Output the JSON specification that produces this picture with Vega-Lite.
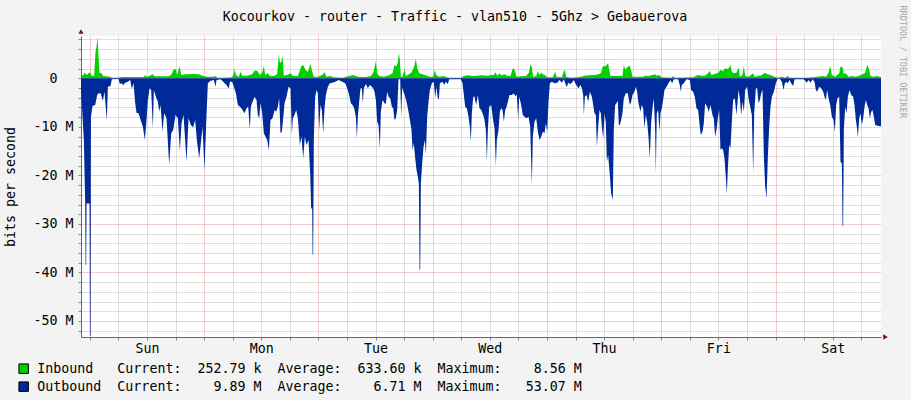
{
  "$schema": "https://vega.github.io/schema/vega-lite/v6.json",
  "width": 800,
  "height": 301,
  "autosize": {"type": "none"},
  "padding": {"left": 81, "top": 36, "right": 30, "bottom": 63},
  "background": "#F3F3F3",
  "datasets": {
    "traffic": [
      {"t": -1.85, "dir": "Inbound", "v": 0.48}, {"t": -1.39, "dir": "Inbound", "v": 0.69}, {"t": -1.04, "dir": "Inbound", "v": 1.17}, {"t": -0.69, "dir": "Inbound", "v": 0.69},
      {"t": -0.27, "dir": "Inbound", "v": 1.03}, {"t": 0.01, "dir": "Inbound", "v": 1.24}, {"t": 0.43, "dir": "Inbound", "v": 0.48}, {"t": 0.92, "dir": "Inbound", "v": 0.48},
      {"t": 1.2, "dir": "Inbound", "v": 5.5}, {"t": 1.41, "dir": "Inbound", "v": 6.53}, {"t": 1.62, "dir": "Inbound", "v": 8.56}, {"t": 1.83, "dir": "Inbound", "v": 4.47},
      {"t": 2.04, "dir": "Inbound", "v": 1.03}, {"t": 2.39, "dir": "Inbound", "v": 1.17}, {"t": 2.81, "dir": "Inbound", "v": 0.48}, {"t": 4.28, "dir": "Inbound", "v": 0.34},
      {"t": 4.63, "dir": "Inbound", "v": 0.14}, {"t": 6.03, "dir": "Inbound", "v": 0.14}, {"t": 6.73, "dir": "Inbound", "v": 0.27}, {"t": 11.28, "dir": "Inbound", "v": 0.27},
      {"t": 11.63, "dir": "Inbound", "v": 0.62}, {"t": 11.98, "dir": "Inbound", "v": 0.34}, {"t": 12.47, "dir": "Inbound", "v": 0.48}, {"t": 13.17, "dir": "Inbound", "v": 0.82},
      {"t": 13.59, "dir": "Inbound", "v": 0.41}, {"t": 16.53, "dir": "Inbound", "v": 0.41}, {"t": 17.09, "dir": "Inbound", "v": 0.76}, {"t": 17.65, "dir": "Inbound", "v": 1.86},
      {"t": 18.07, "dir": "Inbound", "v": 1.86}, {"t": 18.35, "dir": "Inbound", "v": 0.69}, {"t": 18.84, "dir": "Inbound", "v": 2.54}, {"t": 19.19, "dir": "Inbound", "v": 0.69},
      {"t": 20.03, "dir": "Inbound", "v": 0.82}, {"t": 21.78, "dir": "Inbound", "v": 0.89}, {"t": 22.83, "dir": "Inbound", "v": 0.82}, {"t": 23.67, "dir": "Inbound", "v": 0.55},
      {"t": 24.58, "dir": "Inbound", "v": 0.34}, {"t": 26.05, "dir": "Inbound", "v": 0.34}, {"t": 26.4, "dir": "Inbound", "v": 0.48}, {"t": 26.75, "dir": "Inbound", "v": 0.14},
      {"t": 28.15, "dir": "Inbound", "v": 0.14}, {"t": 29.9, "dir": "Inbound", "v": 0.21}, {"t": 30.25, "dir": "Inbound", "v": 1.03}, {"t": 30.46, "dir": "Inbound", "v": 1.92},
      {"t": 30.67, "dir": "Inbound", "v": 0.69}, {"t": 31.3, "dir": "Inbound", "v": 0.34}, {"t": 31.65, "dir": "Inbound", "v": 1.37}, {"t": 32.0, "dir": "Inbound", "v": 0.55},
      {"t": 33.05, "dir": "Inbound", "v": 0.55}, {"t": 34.1, "dir": "Inbound", "v": 0.82}, {"t": 34.59, "dir": "Inbound", "v": 1.58}, {"t": 35.15, "dir": "Inbound", "v": 1.58},
      {"t": 35.71, "dir": "Inbound", "v": 0.69}, {"t": 36.2, "dir": "Inbound", "v": 1.17}, {"t": 36.55, "dir": "Inbound", "v": 2.54}, {"t": 36.83, "dir": "Inbound", "v": 0.69},
      {"t": 37.39, "dir": "Inbound", "v": 1.03}, {"t": 37.81, "dir": "Inbound", "v": 0.48}, {"t": 38.65, "dir": "Inbound", "v": 0.48}, {"t": 39.35, "dir": "Inbound", "v": 0.82},
      {"t": 39.7, "dir": "Inbound", "v": 5.02}, {"t": 39.91, "dir": "Inbound", "v": 3.23}, {"t": 40.19, "dir": "Inbound", "v": 3.3}, {"t": 40.47, "dir": "Inbound", "v": 4.6},
      {"t": 40.75, "dir": "Inbound", "v": 0.55}, {"t": 41.59, "dir": "Inbound", "v": 0.76}, {"t": 42.15, "dir": "Inbound", "v": 1.03}, {"t": 42.71, "dir": "Inbound", "v": 0.48},
      {"t": 43.69, "dir": "Inbound", "v": 0.48}, {"t": 44.39, "dir": "Inbound", "v": 2.41}, {"t": 44.81, "dir": "Inbound", "v": 2.75}, {"t": 45.3, "dir": "Inbound", "v": 1.72},
      {"t": 45.79, "dir": "Inbound", "v": 1.37}, {"t": 46.35, "dir": "Inbound", "v": 2.96}, {"t": 46.7, "dir": "Inbound", "v": 1.37}, {"t": 47.05, "dir": "Inbound", "v": 0.34},
      {"t": 47.75, "dir": "Inbound", "v": 0.27}, {"t": 48.8, "dir": "Inbound", "v": 0.69}, {"t": 49.29, "dir": "Inbound", "v": 1.24}, {"t": 49.71, "dir": "Inbound", "v": 0.34},
      {"t": 50.41, "dir": "Inbound", "v": 0.48}, {"t": 51.25, "dir": "Inbound", "v": 0.21}, {"t": 53.07, "dir": "Inbound", "v": 0.14}, {"t": 53.77, "dir": "Inbound", "v": 0.34},
      {"t": 54.47, "dir": "Inbound", "v": 0.48}, {"t": 55.17, "dir": "Inbound", "v": 0.69}, {"t": 55.87, "dir": "Inbound", "v": 0.48}, {"t": 56.57, "dir": "Inbound", "v": 0.27},
      {"t": 57.97, "dir": "Inbound", "v": 0.27}, {"t": 59.02, "dir": "Inbound", "v": 0.48}, {"t": 59.51, "dir": "Inbound", "v": 1.17}, {"t": 59.86, "dir": "Inbound", "v": 2.41},
      {"t": 60.07, "dir": "Inbound", "v": 3.57}, {"t": 60.35, "dir": "Inbound", "v": 1.03}, {"t": 60.77, "dir": "Inbound", "v": 0.48}, {"t": 61.82, "dir": "Inbound", "v": 0.34},
      {"t": 62.87, "dir": "Inbound", "v": 0.62}, {"t": 63.57, "dir": "Inbound", "v": 1.03}, {"t": 63.99, "dir": "Inbound", "v": 2.75}, {"t": 64.41, "dir": "Inbound", "v": 2.41},
      {"t": 64.69, "dir": "Inbound", "v": 3.3}, {"t": 64.9, "dir": "Inbound", "v": 5.15}, {"t": 65.11, "dir": "Inbound", "v": 3.78}, {"t": 65.32, "dir": "Inbound", "v": 0.34},
      {"t": 65.67, "dir": "Inbound", "v": 0.34}, {"t": 66.09, "dir": "Inbound", "v": 1.86}, {"t": 66.37, "dir": "Inbound", "v": 0.48}, {"t": 67.07, "dir": "Inbound", "v": 0.82},
      {"t": 67.63, "dir": "Inbound", "v": 1.31}, {"t": 68.12, "dir": "Inbound", "v": 2.41}, {"t": 68.47, "dir": "Inbound", "v": 3.99}, {"t": 68.75, "dir": "Inbound", "v": 2.06},
      {"t": 69.17, "dir": "Inbound", "v": 1.03}, {"t": 69.87, "dir": "Inbound", "v": 0.82}, {"t": 70.92, "dir": "Inbound", "v": 0.48}, {"t": 71.62, "dir": "Inbound", "v": 0.27},
      {"t": 72.11, "dir": "Inbound", "v": 0.34}, {"t": 72.46, "dir": "Inbound", "v": 1.72}, {"t": 72.74, "dir": "Inbound", "v": 0.69}, {"t": 73.37, "dir": "Inbound", "v": 0.34},
      {"t": 74.42, "dir": "Inbound", "v": 0.48}, {"t": 74.77, "dir": "Inbound", "v": 0.27}, {"t": 75.47, "dir": "Inbound", "v": 0.14}, {"t": 77.92, "dir": "Inbound", "v": 0.14},
      {"t": 78.62, "dir": "Inbound", "v": 0.48}, {"t": 79.32, "dir": "Inbound", "v": 0.62}, {"t": 80.37, "dir": "Inbound", "v": 0.48}, {"t": 80.79, "dir": "Inbound", "v": 0.48},
      {"t": 82.19, "dir": "Inbound", "v": 0.62}, {"t": 83.59, "dir": "Inbound", "v": 0.55}, {"t": 84.29, "dir": "Inbound", "v": 0.69}, {"t": 84.85, "dir": "Inbound", "v": 0.69},
      {"t": 85.2, "dir": "Inbound", "v": 1.24}, {"t": 85.55, "dir": "Inbound", "v": 0.55}, {"t": 86.04, "dir": "Inbound", "v": 1.03}, {"t": 86.39, "dir": "Inbound", "v": 0.62},
      {"t": 87.09, "dir": "Inbound", "v": 0.82}, {"t": 87.79, "dir": "Inbound", "v": 0.48}, {"t": 88.35, "dir": "Inbound", "v": 0.48}, {"t": 88.77, "dir": "Inbound", "v": 1.86},
      {"t": 89.05, "dir": "Inbound", "v": 2.06}, {"t": 89.33, "dir": "Inbound", "v": 1.37}, {"t": 89.61, "dir": "Inbound", "v": 0.34}, {"t": 90.59, "dir": "Inbound", "v": 0.41},
      {"t": 91.64, "dir": "Inbound", "v": 0.48}, {"t": 92.2, "dir": "Inbound", "v": 1.17}, {"t": 92.55, "dir": "Inbound", "v": 2.89}, {"t": 92.83, "dir": "Inbound", "v": 2.27},
      {"t": 93.11, "dir": "Inbound", "v": 0.34}, {"t": 93.74, "dir": "Inbound", "v": 0.48}, {"t": 94.09, "dir": "Inbound", "v": 1.58}, {"t": 94.37, "dir": "Inbound", "v": 0.69},
      {"t": 94.79, "dir": "Inbound", "v": 1.17}, {"t": 95.14, "dir": "Inbound", "v": 0.82}, {"t": 95.63, "dir": "Inbound", "v": 0.62}, {"t": 96.05, "dir": "Inbound", "v": 0.21},
      {"t": 97.24, "dir": "Inbound", "v": 0.21}, {"t": 97.73, "dir": "Inbound", "v": 1.37}, {"t": 98.01, "dir": "Inbound", "v": 0.34}, {"t": 99.13, "dir": "Inbound", "v": 0.21},
      {"t": 99.55, "dir": "Inbound", "v": 1.51}, {"t": 99.76, "dir": "Inbound", "v": 1.72}, {"t": 100.04, "dir": "Inbound", "v": 0.34}, {"t": 101.09, "dir": "Inbound", "v": 0.14},
      {"t": 102.49, "dir": "Inbound", "v": 0.21}, {"t": 103.19, "dir": "Inbound", "v": 0.34}, {"t": 103.89, "dir": "Inbound", "v": 0.55}, {"t": 104.94, "dir": "Inbound", "v": 0.62},
      {"t": 105.99, "dir": "Inbound", "v": 0.69}, {"t": 106.83, "dir": "Inbound", "v": 0.82}, {"t": 107.39, "dir": "Inbound", "v": 1.17}, {"t": 107.74, "dir": "Inbound", "v": 2.54},
      {"t": 108.23, "dir": "Inbound", "v": 2.41}, {"t": 108.5, "dir": "Inbound", "v": 2.75}, {"t": 108.85, "dir": "Inbound", "v": 3.09}, {"t": 109.06, "dir": "Inbound", "v": 1.72},
      {"t": 109.34, "dir": "Inbound", "v": 0.48}, {"t": 111.86, "dir": "Inbound", "v": 0.48}, {"t": 112.14, "dir": "Inbound", "v": 2.75}, {"t": 112.42, "dir": "Inbound", "v": 1.86},
      {"t": 112.7, "dir": "Inbound", "v": 2.06}, {"t": 113.05, "dir": "Inbound", "v": 2.41}, {"t": 113.4, "dir": "Inbound", "v": 2.61}, {"t": 113.75, "dir": "Inbound", "v": 1.37},
      {"t": 113.96, "dir": "Inbound", "v": 0.34}, {"t": 116.2, "dir": "Inbound", "v": 0.34}, {"t": 116.55, "dir": "Inbound", "v": 0.55}, {"t": 117.25, "dir": "Inbound", "v": 0.48},
      {"t": 117.95, "dir": "Inbound", "v": 0.62}, {"t": 118.65, "dir": "Inbound", "v": 0.82}, {"t": 119.0, "dir": "Inbound", "v": 0.55}, {"t": 119.56, "dir": "Inbound", "v": 0.69},
      {"t": 120.05, "dir": "Inbound", "v": 0.21}, {"t": 122.15, "dir": "Inbound", "v": 0.14}, {"t": 122.5, "dir": "Inbound", "v": 0.48}, {"t": 122.85, "dir": "Inbound", "v": 0.14},
      {"t": 126.7, "dir": "Inbound", "v": 0.21}, {"t": 127.75, "dir": "Inbound", "v": 0.69}, {"t": 128.45, "dir": "Inbound", "v": 0.55}, {"t": 129.15, "dir": "Inbound", "v": 0.55},
      {"t": 129.85, "dir": "Inbound", "v": 1.03}, {"t": 130.2, "dir": "Inbound", "v": 1.51}, {"t": 130.55, "dir": "Inbound", "v": 0.69}, {"t": 131.25, "dir": "Inbound", "v": 0.89},
      {"t": 131.95, "dir": "Inbound", "v": 1.17}, {"t": 132.44, "dir": "Inbound", "v": 1.72}, {"t": 133.0, "dir": "Inbound", "v": 1.51}, {"t": 133.42, "dir": "Inbound", "v": 2.06},
      {"t": 133.84, "dir": "Inbound", "v": 1.86}, {"t": 134.26, "dir": "Inbound", "v": 2.2}, {"t": 134.54, "dir": "Inbound", "v": 2.82}, {"t": 134.82, "dir": "Inbound", "v": 1.37},
      {"t": 135.24, "dir": "Inbound", "v": 1.03}, {"t": 135.8, "dir": "Inbound", "v": 1.17}, {"t": 136.23, "dir": "Inbound", "v": 2.27}, {"t": 136.51, "dir": "Inbound", "v": 0.34},
      {"t": 137.07, "dir": "Inbound", "v": 0.69}, {"t": 137.35, "dir": "Inbound", "v": 2.54}, {"t": 137.63, "dir": "Inbound", "v": 0.48}, {"t": 138.33, "dir": "Inbound", "v": 0.34},
      {"t": 139.31, "dir": "Inbound", "v": 1.03}, {"t": 139.59, "dir": "Inbound", "v": 0.34}, {"t": 140.43, "dir": "Inbound", "v": 0.55}, {"t": 141.13, "dir": "Inbound", "v": 0.62},
      {"t": 141.69, "dir": "Inbound", "v": 1.17}, {"t": 142.18, "dir": "Inbound", "v": 0.89}, {"t": 142.88, "dir": "Inbound", "v": 0.69}, {"t": 143.79, "dir": "Inbound", "v": 0.34},
      {"t": 144.49, "dir": "Inbound", "v": 0.14}, {"t": 145.33, "dir": "Inbound", "v": 0.34}, {"t": 146.03, "dir": "Inbound", "v": 0.14}, {"t": 146.59, "dir": "Inbound", "v": 0.55},
      {"t": 146.87, "dir": "Inbound", "v": 0.14}, {"t": 150.23, "dir": "Inbound", "v": 0.14}, {"t": 151.63, "dir": "Inbound", "v": 0.21}, {"t": 152.68, "dir": "Inbound", "v": 0.34},
      {"t": 154.08, "dir": "Inbound", "v": 0.48}, {"t": 154.57, "dir": "Inbound", "v": 0.34}, {"t": 155.13, "dir": "Inbound", "v": 1.17}, {"t": 155.48, "dir": "Inbound", "v": 2.54},
      {"t": 155.83, "dir": "Inbound", "v": 0.69}, {"t": 156.53, "dir": "Inbound", "v": 0.34}, {"t": 157.37, "dir": "Inbound", "v": 1.03}, {"t": 157.65, "dir": "Inbound", "v": 2.41},
      {"t": 158.07, "dir": "Inbound", "v": 2.27}, {"t": 158.35, "dir": "Inbound", "v": 0.82}, {"t": 158.77, "dir": "Inbound", "v": 1.03}, {"t": 159.33, "dir": "Inbound", "v": 0.34},
      {"t": 160.03, "dir": "Inbound", "v": 0.48}, {"t": 160.73, "dir": "Inbound", "v": 0.34}, {"t": 161.43, "dir": "Inbound", "v": 0.48}, {"t": 162.27, "dir": "Inbound", "v": 0.82},
      {"t": 162.83, "dir": "Inbound", "v": 1.17}, {"t": 163.25, "dir": "Inbound", "v": 2.75}, {"t": 163.6, "dir": "Inbound", "v": 2.06}, {"t": 163.95, "dir": "Inbound", "v": 0.48},
      {"t": 164.58, "dir": "Inbound", "v": 0.34}, {"t": 165.28, "dir": "Inbound", "v": 0.48}, {"t": 166.15, "dir": "Inbound", "v": 0.25},

      {"t": -1.85, "dir": "Outbound", "v": -2.41}, {"t": -1.53, "dir": "Outbound", "v": -7.9}, {"t": -1.25, "dir": "Outbound", "v": -12.71}, {"t": -0.97, "dir": "Outbound", "v": -25.77},
      {"t": -0.89, "dir": "Outbound", "v": -38.49}, {"t": -0.77, "dir": "Outbound", "v": -38.49}, {"t": -0.69, "dir": "Outbound", "v": -25.77}, {"t": -0.06, "dir": "Outbound", "v": -25.77},
      {"t": 0.02, "dir": "Outbound", "v": -53.07}, {"t": 0.16, "dir": "Outbound", "v": -53.07},
      {"t": 0.24, "dir": "Outbound", "v": -7.9}, {"t": 0.57, "dir": "Outbound", "v": -5.7}, {"t": 1.13, "dir": "Outbound", "v": -5.5}, {"t": 1.55, "dir": "Outbound", "v": -3.44},
      {"t": 1.83, "dir": "Outbound", "v": -3.09}, {"t": 2.25, "dir": "Outbound", "v": -3.09}, {"t": 2.74, "dir": "Outbound", "v": -4.6}, {"t": 3.09, "dir": "Outbound", "v": -2.75},
      {"t": 3.58, "dir": "Outbound", "v": -8.73}, {"t": 3.79, "dir": "Outbound", "v": -1.72}, {"t": 4.35, "dir": "Outbound", "v": -1.58}, {"t": 4.63, "dir": "Outbound", "v": -0.21},
      {"t": 6.03, "dir": "Outbound", "v": -0.14}, {"t": 6.31, "dir": "Outbound", "v": -1.17}, {"t": 6.73, "dir": "Outbound", "v": -1.03}, {"t": 7.01, "dir": "Outbound", "v": -1.44},
      {"t": 7.43, "dir": "Outbound", "v": -0.89}, {"t": 7.99, "dir": "Outbound", "v": -0.69}, {"t": 8.48, "dir": "Outbound", "v": -0.34}, {"t": 8.83, "dir": "Outbound", "v": -2.13},
      {"t": 9.18, "dir": "Outbound", "v": -1.03}, {"t": 9.53, "dir": "Outbound", "v": -5.15}, {"t": 9.81, "dir": "Outbound", "v": -7.08}, {"t": 10.23, "dir": "Outbound", "v": -7.22},
      {"t": 10.79, "dir": "Outbound", "v": -8.93}, {"t": 11.14, "dir": "Outbound", "v": -9.97}, {"t": 11.56, "dir": "Outbound", "v": -12.71}, {"t": 11.91, "dir": "Outbound", "v": -8.59},
      {"t": 12.19, "dir": "Outbound", "v": -4.6}, {"t": 12.54, "dir": "Outbound", "v": -2.06}, {"t": 12.89, "dir": "Outbound", "v": -2.41}, {"t": 13.24, "dir": "Outbound", "v": -10.31},
      {"t": 13.45, "dir": "Outbound", "v": -2.41}, {"t": 13.87, "dir": "Outbound", "v": -3.78}, {"t": 14.29, "dir": "Outbound", "v": -4.81}, {"t": 14.57, "dir": "Outbound", "v": -6.87},
      {"t": 14.85, "dir": "Outbound", "v": -5.5}, {"t": 15.27, "dir": "Outbound", "v": -11.0}, {"t": 15.62, "dir": "Outbound", "v": -7.22}, {"t": 16.11, "dir": "Outbound", "v": -8.25},
      {"t": 16.67, "dir": "Outbound", "v": -17.87}, {"t": 17.09, "dir": "Outbound", "v": -11.34}, {"t": 17.51, "dir": "Outbound", "v": -10.65}, {"t": 18.0, "dir": "Outbound", "v": -7.56},
      {"t": 18.49, "dir": "Outbound", "v": -8.25}, {"t": 18.91, "dir": "Outbound", "v": -14.91}, {"t": 19.26, "dir": "Outbound", "v": -9.28}, {"t": 19.68, "dir": "Outbound", "v": -7.56},
      {"t": 20.31, "dir": "Outbound", "v": -17.18}, {"t": 20.73, "dir": "Outbound", "v": -8.25}, {"t": 21.22, "dir": "Outbound", "v": -9.62}, {"t": 21.71, "dir": "Outbound", "v": -10.1},
      {"t": 22.13, "dir": "Outbound", "v": -8.59}, {"t": 22.48, "dir": "Outbound", "v": -12.71}, {"t": 22.97, "dir": "Outbound", "v": -16.49}, {"t": 23.39, "dir": "Outbound", "v": -12.71},
      {"t": 23.67, "dir": "Outbound", "v": -9.97}, {"t": 24.09, "dir": "Outbound", "v": -19.04}, {"t": 24.44, "dir": "Outbound", "v": -9.28}, {"t": 24.79, "dir": "Outbound", "v": -1.03},
      {"t": 25.35, "dir": "Outbound", "v": -0.48}, {"t": 26.05, "dir": "Outbound", "v": -0.34}, {"t": 26.4, "dir": "Outbound", "v": -1.72}, {"t": 26.61, "dir": "Outbound", "v": -0.34},
      {"t": 27.45, "dir": "Outbound", "v": -0.21}, {"t": 27.8, "dir": "Outbound", "v": -0.48}, {"t": 28.71, "dir": "Outbound", "v": -1.37}, {"t": 28.99, "dir": "Outbound", "v": -1.86},
      {"t": 29.2, "dir": "Outbound", "v": -2.06}, {"t": 29.41, "dir": "Outbound", "v": -0.69}, {"t": 29.9, "dir": "Outbound", "v": -0.69}, {"t": 30.25, "dir": "Outbound", "v": -1.72},
      {"t": 30.67, "dir": "Outbound", "v": -3.09}, {"t": 31.09, "dir": "Outbound", "v": -5.5}, {"t": 31.65, "dir": "Outbound", "v": -5.98}, {"t": 32.07, "dir": "Outbound", "v": -6.53},
      {"t": 32.49, "dir": "Outbound", "v": -7.22}, {"t": 32.91, "dir": "Outbound", "v": -6.19}, {"t": 33.26, "dir": "Outbound", "v": -5.84}, {"t": 33.61, "dir": "Outbound", "v": -10.52},
      {"t": 33.82, "dir": "Outbound", "v": -5.84}, {"t": 34.17, "dir": "Outbound", "v": -4.81}, {"t": 34.59, "dir": "Outbound", "v": -3.78}, {"t": 35.01, "dir": "Outbound", "v": -4.47},
      {"t": 35.29, "dir": "Outbound", "v": -7.56}, {"t": 35.57, "dir": "Outbound", "v": -8.25}, {"t": 35.85, "dir": "Outbound", "v": -5.15}, {"t": 36.2, "dir": "Outbound", "v": -7.22},
      {"t": 36.55, "dir": "Outbound", "v": -11.34}, {"t": 36.9, "dir": "Outbound", "v": -12.03}, {"t": 37.25, "dir": "Outbound", "v": -12.71}, {"t": 37.6, "dir": "Outbound", "v": -14.78},
      {"t": 37.95, "dir": "Outbound", "v": -8.59}, {"t": 38.37, "dir": "Outbound", "v": -8.25}, {"t": 38.79, "dir": "Outbound", "v": -6.53}, {"t": 39.14, "dir": "Outbound", "v": -6.87},
      {"t": 39.49, "dir": "Outbound", "v": -5.84}, {"t": 39.77, "dir": "Outbound", "v": -4.12}, {"t": 40.05, "dir": "Outbound", "v": -11.34}, {"t": 40.33, "dir": "Outbound", "v": -11.0},
      {"t": 40.61, "dir": "Outbound", "v": -8.25}, {"t": 40.89, "dir": "Outbound", "v": -5.15}, {"t": 41.31, "dir": "Outbound", "v": -3.78}, {"t": 41.73, "dir": "Outbound", "v": -1.72},
      {"t": 42.15, "dir": "Outbound", "v": -2.06}, {"t": 42.43, "dir": "Outbound", "v": -11.48}, {"t": 42.64, "dir": "Outbound", "v": -8.25}, {"t": 42.99, "dir": "Outbound", "v": -7.56},
      {"t": 43.34, "dir": "Outbound", "v": -6.53}, {"t": 43.69, "dir": "Outbound", "v": -8.25}, {"t": 44.11, "dir": "Outbound", "v": -13.75}, {"t": 44.46, "dir": "Outbound", "v": -12.03},
      {"t": 44.81, "dir": "Outbound", "v": -16.49}, {"t": 45.16, "dir": "Outbound", "v": -12.03}, {"t": 45.51, "dir": "Outbound", "v": -13.75}, {"t": 45.93, "dir": "Outbound", "v": -12.71},
      {"t": 46.28, "dir": "Outbound", "v": -19.59}, {"t": 46.49, "dir": "Outbound", "v": -26.8}, {"t": 46.7, "dir": "Outbound", "v": -26.8}, {"t": 46.78, "dir": "Outbound", "v": -36.29},
      {"t": 46.9, "dir": "Outbound", "v": -36.29},
      {"t": 47.05, "dir": "Outbound", "v": -12.03}, {"t": 47.33, "dir": "Outbound", "v": -3.78}, {"t": 47.61, "dir": "Outbound", "v": -2.41}, {"t": 47.89, "dir": "Outbound", "v": -3.09},
      {"t": 48.17, "dir": "Outbound", "v": -10.65}, {"t": 48.45, "dir": "Outbound", "v": -5.5}, {"t": 48.73, "dir": "Outbound", "v": -6.53}, {"t": 49.01, "dir": "Outbound", "v": -11.34},
      {"t": 49.29, "dir": "Outbound", "v": -6.19}, {"t": 49.57, "dir": "Outbound", "v": -3.44}, {"t": 49.99, "dir": "Outbound", "v": -1.72}, {"t": 50.41, "dir": "Outbound", "v": -1.03},
      {"t": 50.97, "dir": "Outbound", "v": -0.89}, {"t": 51.53, "dir": "Outbound", "v": -0.69}, {"t": 52.3, "dir": "Outbound", "v": -0.34}, {"t": 53.0, "dir": "Outbound", "v": -0.69},
      {"t": 53.63, "dir": "Outbound", "v": -1.03}, {"t": 54.05, "dir": "Outbound", "v": -2.06}, {"t": 54.47, "dir": "Outbound", "v": -3.44}, {"t": 54.82, "dir": "Outbound", "v": -5.15},
      {"t": 55.17, "dir": "Outbound", "v": -5.5}, {"t": 55.52, "dir": "Outbound", "v": -6.19}, {"t": 55.87, "dir": "Outbound", "v": -7.9}, {"t": 56.08, "dir": "Outbound", "v": -12.37},
      {"t": 56.29, "dir": "Outbound", "v": -7.9}, {"t": 56.57, "dir": "Outbound", "v": -4.81}, {"t": 56.85, "dir": "Outbound", "v": -2.06}, {"t": 57.13, "dir": "Outbound", "v": -2.06},
      {"t": 57.34, "dir": "Outbound", "v": -5.15}, {"t": 57.55, "dir": "Outbound", "v": -2.06}, {"t": 57.97, "dir": "Outbound", "v": -1.17}, {"t": 58.39, "dir": "Outbound", "v": -2.06},
      {"t": 58.81, "dir": "Outbound", "v": -1.37}, {"t": 59.23, "dir": "Outbound", "v": -1.72}, {"t": 59.51, "dir": "Outbound", "v": -2.06}, {"t": 59.79, "dir": "Outbound", "v": -2.75},
      {"t": 60.07, "dir": "Outbound", "v": -4.47}, {"t": 60.35, "dir": "Outbound", "v": -8.93}, {"t": 60.63, "dir": "Outbound", "v": -9.62}, {"t": 60.91, "dir": "Outbound", "v": -14.43},
      {"t": 61.12, "dir": "Outbound", "v": -6.87}, {"t": 61.47, "dir": "Outbound", "v": -4.47}, {"t": 61.89, "dir": "Outbound", "v": -5.15}, {"t": 62.17, "dir": "Outbound", "v": -5.29},
      {"t": 62.45, "dir": "Outbound", "v": -2.75}, {"t": 62.73, "dir": "Outbound", "v": -3.78}, {"t": 63.08, "dir": "Outbound", "v": -4.12}, {"t": 63.43, "dir": "Outbound", "v": -5.84},
      {"t": 63.71, "dir": "Outbound", "v": -6.19}, {"t": 63.99, "dir": "Outbound", "v": -8.59}, {"t": 64.27, "dir": "Outbound", "v": -8.25}, {"t": 64.55, "dir": "Outbound", "v": -6.53},
      {"t": 64.83, "dir": "Outbound", "v": -0.21}, {"t": 65.18, "dir": "Outbound", "v": -0.21}, {"t": 65.39, "dir": "Outbound", "v": -8.04}, {"t": 65.6, "dir": "Outbound", "v": -1.86},
      {"t": 65.88, "dir": "Outbound", "v": -2.75}, {"t": 66.23, "dir": "Outbound", "v": -3.78}, {"t": 66.58, "dir": "Outbound", "v": -5.15}, {"t": 66.93, "dir": "Outbound", "v": -6.87},
      {"t": 67.28, "dir": "Outbound", "v": -8.93}, {"t": 67.56, "dir": "Outbound", "v": -10.65}, {"t": 67.77, "dir": "Outbound", "v": -14.78}, {"t": 68.05, "dir": "Outbound", "v": -13.4},
      {"t": 68.33, "dir": "Outbound", "v": -16.49}, {"t": 68.61, "dir": "Outbound", "v": -18.9}, {"t": 68.89, "dir": "Outbound", "v": -20.27}, {"t": 69.1, "dir": "Outbound", "v": -21.65},
      {"t": 69.24, "dir": "Outbound", "v": -39.38}, {"t": 69.38, "dir": "Outbound", "v": -39.38}, {"t": 69.52, "dir": "Outbound", "v": -21.65}, {"t": 69.8, "dir": "Outbound", "v": -17.53}, {"t": 70.08, "dir": "Outbound", "v": -14.09},
      {"t": 70.36, "dir": "Outbound", "v": -12.71}, {"t": 70.57, "dir": "Outbound", "v": -15.81}, {"t": 70.85, "dir": "Outbound", "v": -7.9}, {"t": 71.13, "dir": "Outbound", "v": -4.81},
      {"t": 71.41, "dir": "Outbound", "v": -2.41}, {"t": 71.83, "dir": "Outbound", "v": -1.03}, {"t": 72.25, "dir": "Outbound", "v": -0.69}, {"t": 72.53, "dir": "Outbound", "v": -4.12},
      {"t": 72.81, "dir": "Outbound", "v": -1.72}, {"t": 73.02, "dir": "Outbound", "v": -3.78}, {"t": 73.3, "dir": "Outbound", "v": -4.47}, {"t": 73.51, "dir": "Outbound", "v": -1.03},
      {"t": 74.07, "dir": "Outbound", "v": -0.69}, {"t": 74.42, "dir": "Outbound", "v": -1.37}, {"t": 74.77, "dir": "Outbound", "v": -0.69}, {"t": 75.19, "dir": "Outbound", "v": -1.17},
      {"t": 75.47, "dir": "Outbound", "v": -0.21}, {"t": 77.92, "dir": "Outbound", "v": -0.21}, {"t": 78.27, "dir": "Outbound", "v": -1.03}, {"t": 78.55, "dir": "Outbound", "v": -3.44},
      {"t": 78.83, "dir": "Outbound", "v": -5.84}, {"t": 79.18, "dir": "Outbound", "v": -6.19}, {"t": 79.53, "dir": "Outbound", "v": -7.9}, {"t": 79.81, "dir": "Outbound", "v": -9.97},
      {"t": 80.02, "dir": "Outbound", "v": -13.06}, {"t": 80.23, "dir": "Outbound", "v": -7.22}, {"t": 80.51, "dir": "Outbound", "v": -3.78}, {"t": 80.79, "dir": "Outbound", "v": -3.78},
      {"t": 81.14, "dir": "Outbound", "v": -5.5}, {"t": 81.49, "dir": "Outbound", "v": -3.44}, {"t": 81.84, "dir": "Outbound", "v": -6.19}, {"t": 82.19, "dir": "Outbound", "v": -6.53},
      {"t": 82.61, "dir": "Outbound", "v": -7.56}, {"t": 82.89, "dir": "Outbound", "v": -8.59}, {"t": 83.17, "dir": "Outbound", "v": -10.65}, {"t": 83.38, "dir": "Outbound", "v": -16.98},
      {"t": 83.59, "dir": "Outbound", "v": -10.65}, {"t": 83.87, "dir": "Outbound", "v": -5.84}, {"t": 84.29, "dir": "Outbound", "v": -5.5}, {"t": 84.64, "dir": "Outbound", "v": -8.25},
      {"t": 84.99, "dir": "Outbound", "v": -10.31}, {"t": 85.27, "dir": "Outbound", "v": -18.08}, {"t": 85.48, "dir": "Outbound", "v": -12.71}, {"t": 85.83, "dir": "Outbound", "v": -10.65},
      {"t": 86.11, "dir": "Outbound", "v": -6.87}, {"t": 86.39, "dir": "Outbound", "v": -6.19}, {"t": 86.67, "dir": "Outbound", "v": -6.53}, {"t": 86.95, "dir": "Outbound", "v": -8.93},
      {"t": 87.23, "dir": "Outbound", "v": -6.53}, {"t": 87.51, "dir": "Outbound", "v": -5.84}, {"t": 87.79, "dir": "Outbound", "v": -4.81}, {"t": 88.14, "dir": "Outbound", "v": -3.44},
      {"t": 88.63, "dir": "Outbound", "v": -3.44}, {"t": 89.05, "dir": "Outbound", "v": -3.09}, {"t": 89.33, "dir": "Outbound", "v": -3.64}, {"t": 89.68, "dir": "Outbound", "v": -3.44},
      {"t": 89.96, "dir": "Outbound", "v": -8.59}, {"t": 90.17, "dir": "Outbound", "v": -3.78}, {"t": 90.59, "dir": "Outbound", "v": -5.5}, {"t": 90.94, "dir": "Outbound", "v": -7.56},
      {"t": 91.29, "dir": "Outbound", "v": -7.9}, {"t": 91.71, "dir": "Outbound", "v": -8.25}, {"t": 92.13, "dir": "Outbound", "v": -7.9}, {"t": 92.48, "dir": "Outbound", "v": -9.97},
      {"t": 92.83, "dir": "Outbound", "v": -21.79}, {"t": 93.04, "dir": "Outbound", "v": -11.89}, {"t": 93.39, "dir": "Outbound", "v": -8.93}, {"t": 93.74, "dir": "Outbound", "v": -8.25},
      {"t": 94.09, "dir": "Outbound", "v": -11.0}, {"t": 94.44, "dir": "Outbound", "v": -12.71}, {"t": 94.79, "dir": "Outbound", "v": -12.03}, {"t": 95.14, "dir": "Outbound", "v": -11.0},
      {"t": 95.49, "dir": "Outbound", "v": -11.34}, {"t": 95.77, "dir": "Outbound", "v": -9.28}, {"t": 96.05, "dir": "Outbound", "v": -11.0}, {"t": 96.33, "dir": "Outbound", "v": -4.81},
      {"t": 96.61, "dir": "Outbound", "v": -1.03}, {"t": 97.03, "dir": "Outbound", "v": -0.69}, {"t": 97.59, "dir": "Outbound", "v": -1.03}, {"t": 98.15, "dir": "Outbound", "v": -0.89},
      {"t": 98.64, "dir": "Outbound", "v": -0.34}, {"t": 99.13, "dir": "Outbound", "v": -0.89}, {"t": 99.55, "dir": "Outbound", "v": -0.21}, {"t": 99.83, "dir": "Outbound", "v": -1.03},
      {"t": 100.18, "dir": "Outbound", "v": -1.86}, {"t": 100.46, "dir": "Outbound", "v": -0.89}, {"t": 100.88, "dir": "Outbound", "v": -1.17}, {"t": 101.23, "dir": "Outbound", "v": -0.89},
      {"t": 101.65, "dir": "Outbound", "v": -0.34}, {"t": 101.93, "dir": "Outbound", "v": -1.03}, {"t": 102.28, "dir": "Outbound", "v": -1.58}, {"t": 102.63, "dir": "Outbound", "v": -2.06},
      {"t": 103.05, "dir": "Outbound", "v": -1.37}, {"t": 103.33, "dir": "Outbound", "v": -2.06}, {"t": 103.61, "dir": "Outbound", "v": -3.44}, {"t": 103.75, "dir": "Outbound", "v": -7.56},
      {"t": 103.96, "dir": "Outbound", "v": -3.78}, {"t": 104.31, "dir": "Outbound", "v": -3.44}, {"t": 104.66, "dir": "Outbound", "v": -4.81}, {"t": 105.01, "dir": "Outbound", "v": -2.75},
      {"t": 105.43, "dir": "Outbound", "v": -3.78}, {"t": 105.71, "dir": "Outbound", "v": -5.5}, {"t": 105.99, "dir": "Outbound", "v": -7.22}, {"t": 106.27, "dir": "Outbound", "v": -7.56},
      {"t": 106.48, "dir": "Outbound", "v": -14.09}, {"t": 106.76, "dir": "Outbound", "v": -9.97}, {"t": 107.04, "dir": "Outbound", "v": -6.53}, {"t": 107.32, "dir": "Outbound", "v": -7.22},
      {"t": 107.53, "dir": "Outbound", "v": -9.97}, {"t": 107.81, "dir": "Outbound", "v": -12.37}, {"t": 108.09, "dir": "Outbound", "v": -7.22}, {"t": 108.37, "dir": "Outbound", "v": -9.28},
      {"t": 108.58, "dir": "Outbound", "v": -17.18}, {"t": 108.85, "dir": "Outbound", "v": -15.81}, {"t": 109.2, "dir": "Outbound", "v": -19.93}, {"t": 109.48, "dir": "Outbound", "v": -23.71},
      {"t": 109.83, "dir": "Outbound", "v": -25.09}, {"t": 110.04, "dir": "Outbound", "v": -10.65}, {"t": 110.32, "dir": "Outbound", "v": -5.5}, {"t": 110.6, "dir": "Outbound", "v": -5.15},
      {"t": 110.88, "dir": "Outbound", "v": -4.6}, {"t": 111.09, "dir": "Outbound", "v": -9.62}, {"t": 111.3, "dir": "Outbound", "v": -9.62}, {"t": 111.58, "dir": "Outbound", "v": -8.59},
      {"t": 111.86, "dir": "Outbound", "v": -7.22}, {"t": 112.14, "dir": "Outbound", "v": -4.12}, {"t": 112.56, "dir": "Outbound", "v": -3.09}, {"t": 112.98, "dir": "Outbound", "v": -3.09},
      {"t": 113.4, "dir": "Outbound", "v": -5.5}, {"t": 113.68, "dir": "Outbound", "v": -4.81}, {"t": 113.96, "dir": "Outbound", "v": -3.44}, {"t": 114.38, "dir": "Outbound", "v": -2.75},
      {"t": 114.66, "dir": "Outbound", "v": -1.72}, {"t": 114.94, "dir": "Outbound", "v": -2.75}, {"t": 115.22, "dir": "Outbound", "v": -5.15}, {"t": 115.64, "dir": "Outbound", "v": -6.87},
      {"t": 115.92, "dir": "Outbound", "v": -5.5}, {"t": 116.2, "dir": "Outbound", "v": -6.19}, {"t": 116.48, "dir": "Outbound", "v": -10.31}, {"t": 116.76, "dir": "Outbound", "v": -7.56},
      {"t": 117.04, "dir": "Outbound", "v": -8.93}, {"t": 117.32, "dir": "Outbound", "v": -12.03}, {"t": 117.6, "dir": "Outbound", "v": -16.49}, {"t": 117.88, "dir": "Outbound", "v": -9.28},
      {"t": 118.16, "dir": "Outbound", "v": -6.19}, {"t": 118.44, "dir": "Outbound", "v": -4.12}, {"t": 118.72, "dir": "Outbound", "v": -10.65}, {"t": 118.86, "dir": "Outbound", "v": -19.45},
      {"t": 119.07, "dir": "Outbound", "v": -7.22}, {"t": 119.35, "dir": "Outbound", "v": -6.53}, {"t": 119.63, "dir": "Outbound", "v": -11.0}, {"t": 119.84, "dir": "Outbound", "v": -7.22},
      {"t": 120.12, "dir": "Outbound", "v": -6.19}, {"t": 120.4, "dir": "Outbound", "v": -4.47}, {"t": 120.68, "dir": "Outbound", "v": -2.41}, {"t": 121.1, "dir": "Outbound", "v": -1.72},
      {"t": 121.52, "dir": "Outbound", "v": -1.03}, {"t": 121.94, "dir": "Outbound", "v": -0.34}, {"t": 122.29, "dir": "Outbound", "v": -1.03}, {"t": 122.64, "dir": "Outbound", "v": -0.21},
      {"t": 123.55, "dir": "Outbound", "v": -0.21}, {"t": 123.9, "dir": "Outbound", "v": -1.37}, {"t": 124.11, "dir": "Outbound", "v": -2.75}, {"t": 124.32, "dir": "Outbound", "v": -1.37},
      {"t": 124.74, "dir": "Outbound", "v": -1.03}, {"t": 125.3, "dir": "Outbound", "v": -0.21}, {"t": 126.0, "dir": "Outbound", "v": -0.34}, {"t": 126.28, "dir": "Outbound", "v": -2.41},
      {"t": 126.7, "dir": "Outbound", "v": -2.75}, {"t": 127.05, "dir": "Outbound", "v": -3.78}, {"t": 127.4, "dir": "Outbound", "v": -6.19}, {"t": 127.75, "dir": "Outbound", "v": -6.53},
      {"t": 128.1, "dir": "Outbound", "v": -9.97}, {"t": 128.31, "dir": "Outbound", "v": -11.68}, {"t": 128.66, "dir": "Outbound", "v": -11.0}, {"t": 128.94, "dir": "Outbound", "v": -9.28},
      {"t": 129.22, "dir": "Outbound", "v": -5.15}, {"t": 129.64, "dir": "Outbound", "v": -5.84}, {"t": 129.99, "dir": "Outbound", "v": -6.87}, {"t": 130.34, "dir": "Outbound", "v": -5.5},
      {"t": 130.76, "dir": "Outbound", "v": -7.56}, {"t": 131.04, "dir": "Outbound", "v": -8.25}, {"t": 131.32, "dir": "Outbound", "v": -12.03}, {"t": 131.6, "dir": "Outbound", "v": -10.65},
      {"t": 131.88, "dir": "Outbound", "v": -8.25}, {"t": 132.16, "dir": "Outbound", "v": -6.53}, {"t": 132.44, "dir": "Outbound", "v": -14.78}, {"t": 132.72, "dir": "Outbound", "v": -14.43},
      {"t": 133.0, "dir": "Outbound", "v": -14.78}, {"t": 133.28, "dir": "Outbound", "v": -16.49}, {"t": 133.56, "dir": "Outbound", "v": -20.27}, {"t": 133.77, "dir": "Outbound", "v": -23.85},
      {"t": 133.98, "dir": "Outbound", "v": -18.9}, {"t": 134.26, "dir": "Outbound", "v": -13.75}, {"t": 134.54, "dir": "Outbound", "v": -14.43}, {"t": 134.82, "dir": "Outbound", "v": -8.93},
      {"t": 135.1, "dir": "Outbound", "v": -4.47}, {"t": 135.45, "dir": "Outbound", "v": -4.12}, {"t": 135.8, "dir": "Outbound", "v": -7.56}, {"t": 136.23, "dir": "Outbound", "v": -2.41},
      {"t": 136.51, "dir": "Outbound", "v": -4.12}, {"t": 136.79, "dir": "Outbound", "v": -7.56}, {"t": 137.07, "dir": "Outbound", "v": -4.81}, {"t": 137.35, "dir": "Outbound", "v": -6.87},
      {"t": 137.63, "dir": "Outbound", "v": -2.41}, {"t": 138.05, "dir": "Outbound", "v": -1.72}, {"t": 138.33, "dir": "Outbound", "v": -4.12}, {"t": 138.68, "dir": "Outbound", "v": -5.84},
      {"t": 139.03, "dir": "Outbound", "v": -7.56}, {"t": 139.31, "dir": "Outbound", "v": -19.59}, {"t": 139.52, "dir": "Outbound", "v": -7.22}, {"t": 139.87, "dir": "Outbound", "v": -2.06},
      {"t": 140.15, "dir": "Outbound", "v": -2.06}, {"t": 140.43, "dir": "Outbound", "v": -5.15}, {"t": 140.71, "dir": "Outbound", "v": -4.47}, {"t": 140.99, "dir": "Outbound", "v": -3.09},
      {"t": 141.27, "dir": "Outbound", "v": -2.41}, {"t": 141.55, "dir": "Outbound", "v": -16.15}, {"t": 141.83, "dir": "Outbound", "v": -22.34}, {"t": 142.11, "dir": "Outbound", "v": -24.74},
      {"t": 142.39, "dir": "Outbound", "v": -16.15}, {"t": 142.67, "dir": "Outbound", "v": -9.97}, {"t": 142.95, "dir": "Outbound", "v": -5.84}, {"t": 143.23, "dir": "Outbound", "v": -3.78},
      {"t": 143.65, "dir": "Outbound", "v": -2.75}, {"t": 144.07, "dir": "Outbound", "v": -1.03}, {"t": 144.49, "dir": "Outbound", "v": -0.05}, {"t": 144.98, "dir": "Outbound", "v": -0.21},
      {"t": 145.33, "dir": "Outbound", "v": -0.69}, {"t": 145.68, "dir": "Outbound", "v": -2.41}, {"t": 145.96, "dir": "Outbound", "v": -1.03}, {"t": 146.31, "dir": "Outbound", "v": -0.69},
      {"t": 146.59, "dir": "Outbound", "v": -1.03}, {"t": 146.94, "dir": "Outbound", "v": -0.34}, {"t": 147.29, "dir": "Outbound", "v": -1.03}, {"t": 147.71, "dir": "Outbound", "v": -1.58},
      {"t": 147.99, "dir": "Outbound", "v": -0.21}, {"t": 149.88, "dir": "Outbound", "v": -0.21}, {"t": 150.23, "dir": "Outbound", "v": -0.48}, {"t": 150.58, "dir": "Outbound", "v": -0.89},
      {"t": 150.93, "dir": "Outbound", "v": -0.34}, {"t": 151.35, "dir": "Outbound", "v": -0.89}, {"t": 151.77, "dir": "Outbound", "v": -0.21}, {"t": 152.19, "dir": "Outbound", "v": -0.69},
      {"t": 152.47, "dir": "Outbound", "v": -2.41}, {"t": 152.75, "dir": "Outbound", "v": -2.75}, {"t": 153.17, "dir": "Outbound", "v": -1.72}, {"t": 153.59, "dir": "Outbound", "v": -2.06},
      {"t": 154.01, "dir": "Outbound", "v": -2.75}, {"t": 154.29, "dir": "Outbound", "v": -3.78}, {"t": 154.57, "dir": "Outbound", "v": -4.47}, {"t": 154.85, "dir": "Outbound", "v": -2.41},
      {"t": 155.13, "dir": "Outbound", "v": -4.12}, {"t": 155.48, "dir": "Outbound", "v": -5.5}, {"t": 155.83, "dir": "Outbound", "v": -7.9}, {"t": 156.18, "dir": "Outbound", "v": -8.59},
      {"t": 156.46, "dir": "Outbound", "v": -11.0}, {"t": 156.74, "dir": "Outbound", "v": -5.5}, {"t": 157.02, "dir": "Outbound", "v": -4.12}, {"t": 157.37, "dir": "Outbound", "v": -3.78},
      {"t": 157.65, "dir": "Outbound", "v": -17.18}, {"t": 157.93, "dir": "Outbound", "v": -17.53}, {"t": 158.08, "dir": "Outbound", "v": -30.45}, {"t": 158.2, "dir": "Outbound", "v": -30.45}, {"t": 158.35, "dir": "Outbound", "v": -10.65},
      {"t": 158.63, "dir": "Outbound", "v": -5.84}, {"t": 158.91, "dir": "Outbound", "v": -7.22}, {"t": 159.19, "dir": "Outbound", "v": -3.78}, {"t": 159.54, "dir": "Outbound", "v": -2.41},
      {"t": 159.89, "dir": "Outbound", "v": -3.44}, {"t": 160.31, "dir": "Outbound", "v": -3.78}, {"t": 160.59, "dir": "Outbound", "v": -5.5}, {"t": 160.87, "dir": "Outbound", "v": -8.59},
      {"t": 161.08, "dir": "Outbound", "v": -9.97}, {"t": 161.29, "dir": "Outbound", "v": -12.16}, {"t": 161.57, "dir": "Outbound", "v": -8.25}, {"t": 161.85, "dir": "Outbound", "v": -7.22},
      {"t": 162.13, "dir": "Outbound", "v": -9.62}, {"t": 162.41, "dir": "Outbound", "v": -8.25}, {"t": 162.69, "dir": "Outbound", "v": -5.84}, {"t": 162.97, "dir": "Outbound", "v": -4.47},
      {"t": 163.25, "dir": "Outbound", "v": -5.5}, {"t": 163.53, "dir": "Outbound", "v": -6.19}, {"t": 163.81, "dir": "Outbound", "v": -8.25}, {"t": 164.09, "dir": "Outbound", "v": -6.87},
      {"t": 164.37, "dir": "Outbound", "v": -6.53}, {"t": 164.65, "dir": "Outbound", "v": -7.9}, {"t": 164.93, "dir": "Outbound", "v": -9.62}, {"t": 165.63, "dir": "Outbound", "v": -9.83},
      {"t": 166.15, "dir": "Outbound", "v": -9.89}
    ]
  },
  "resolve": {"axis": {"x": "independent", "y": "independent"}},
  "layer": [
    {
      "data": {"name": "traffic"},
      "mark": {"type": "area", "opacity": 1, "interpolate": "linear"},
      "encoding": {
        "x": {
          "field": "t",
          "type": "quantitative",
          "scale": {"domain": [-1.85, 166.15], "nice": false, "zero": false},
          "axis": {
            "orient": "bottom",
            "title": null,
            "values": [0, 6, 12, 18, 24, 30, 36, 42, 48, 54, 60, 66, 72, 78, 84, 90, 96, 102, 108, 114, 120, 126, 132, 138, 144, 150, 156, 162],
            "labelExpr": "datum.value % 24 == 12 ? ['Sun','Mon','Tue','Wed','Thu','Fri','Sat'][floor(datum.value / 24)] : ''",
            "labelOverlap": false,
            "labelFlush": false,
            "labelBaseline": "alphabetic",
            "labelPadding": 12,
            "grid": true,
            "gridColor": {"expr": "datum.value % 24 == 0 ? 'rgba(222,48,48,0.5)' : 'rgba(143,143,143,0.6)'"},
            "gridDash": [1, 1],
            "tickSize": 3,
            "tickColor": "#8A8A8A",
            "domainColor": "#666666"
          }
        },
        "y": {
          "field": "v",
          "type": "quantitative",
          "stack": null,
          "scale": {"domain": [-53.3, 8.72], "nice": false},
          "axis": {
            "orient": "left",
            "title": "bits per second",
            "titleX": -71,
            "titleY": 150.5,
            "titleAngle": -90,
            "titleAlign": "center",
            "titleBaseline": "middle",
            "values": [-52, -50, -48, -46, -44, -42, -40, -38, -36, -34, -32, -30, -28, -26, -24, -22, -20, -18, -16, -14, -12, -10, -8, -6, -4, -2, 0, 2, 4, 6, 8],
            "labelExpr": "datum.value == 0 ? '0' : (datum.value % 10 == 0 ? datum.value + '\u00a0M' : '')",
            "labelOverlap": false,
            "labelFlush": false,
            "labelBaseline": "middle",
            "labelPadding": {"expr": "datum.value == 0 ? 21 : 5"},
            "grid": true,
            "gridColor": {"expr": "datum.value % 10 == 0 ? 'rgba(222,48,48,0.5)' : 'rgba(143,143,143,0.6)'"},
            "gridDash": [1, 1],
            "tickSize": 3,
            "tickColor": "#8A8A8A",
            "domainColor": "#666666"
          }
        },
        "color": {
          "field": "dir",
          "type": "nominal",
          "scale": {"domain": ["Inbound", "Outbound"], "range": ["#00CF00", "#002A97"]},
          "legend": {
            "title": null,
            "orient": "none",
            "legendX": -64,
            "legendY": 326,
            "padding": 0,
            "direction": "vertical",
            "symbolType": "square",
            "symbolSize": 90,
            "symbolOpacity": 1,
            "symbolStrokeColor": "black",
            "symbolStrokeWidth": 1,
            "labelFont": "DejaVu Sans Mono",
            "labelFontSize": 13.3,
            "labelColor": "black",
            "labelLimit": 1000,
            "labelOffset": 7,
            "rowPadding": 3,
            "labelExpr": "datum.label == 'Inbound' ? 'Inbound\u00a0\u00a0\u00a0Current:\u00a0\u00a0252.79\u00a0k\u00a0\u00a0Average:\u00a0\u00a0633.60\u00a0k\u00a0\u00a0Maximum:\u00a0\u00a0\u00a0\u00a08.56\u00a0M' : 'Outbound\u00a0\u00a0Current:\u00a0\u00a0\u00a0\u00a09.89\u00a0M\u00a0\u00a0Average:\u00a0\u00a0\u00a0\u00a06.71\u00a0M\u00a0\u00a0Maximum:\u00a0\u00a0\u00a053.07\u00a0M'",
            "encode": {"symbols": {"update": {"stroke": {"value": "black"}, "strokeWidth": {"value": 1}}}}
          }
        }
      }
    },
    {
      "data": {"values": [{}]},
      "mark": {"type": "point", "shape": "triangle-up", "filled": true, "size": 28, "color": "#7F1010", "opacity": 1},
      "encoding": {
        "x": {
          "datum": -1.85,
          "type": "quantitative",
          "scale": {"domain": [-1.85, 166.15], "nice": false, "zero": false},
          "axis": {
            "orient": "top",
            "title": "Kocourkov - router - Traffic - vlan510 - 5Ghz > Gebauerova",
            "labels": false,
            "ticks": false,
            "domain": false,
            "grid": false,
            "titleX": 373.5,
            "titleY": -16,
            "titleAlign": "center",
            "titleBaseline": "alphabetic"
          }
        },
        "y": {
          "datum": 9.65,
          "type": "quantitative",
          "scale": {"domain": [-53.3, 8.72], "nice": false},
          "axis": {
            "orient": "right",
            "title": "RRDTOOL / TOBI OETIKER",
            "labels": false,
            "ticks": false,
            "domain": false,
            "grid": false,
            "titleAngle": 90,
            "titleX": 21,
            "titleY": -31,
            "titleAlign": "left",
            "titleBaseline": "middle",
            "titleFontSize": 8.5,
            "titleColor": "#A8A8A8"
          }
        }
      }
    },
    {
      "data": {"values": [{}]},
      "mark": {"type": "point", "shape": "triangle-right", "filled": true, "size": 28, "color": "#7F1010", "opacity": 1},
      "encoding": {
        "x": {"datum": 167.1, "type": "quantitative", "scale": {"domain": [-1.85, 166.15], "nice": false, "zero": false}, "axis": null},
        "y": {"datum": -53.3, "type": "quantitative", "scale": {"domain": [-53.3, 8.72], "nice": false}, "axis": null}
      }
    }
  ],
  "config": {
    "font": "DejaVu Sans Mono",
    "view": {"fill": "white", "stroke": null},
    "axis": {
      "labelFont": "DejaVu Sans Mono",
      "labelFontSize": 13.3,
      "labelColor": "black",
      "titleFont": "DejaVu Sans Mono",
      "titleFontSize": 13.3,
      "titleFontWeight": "normal",
      "titleColor": "black"
    }
  }
}
